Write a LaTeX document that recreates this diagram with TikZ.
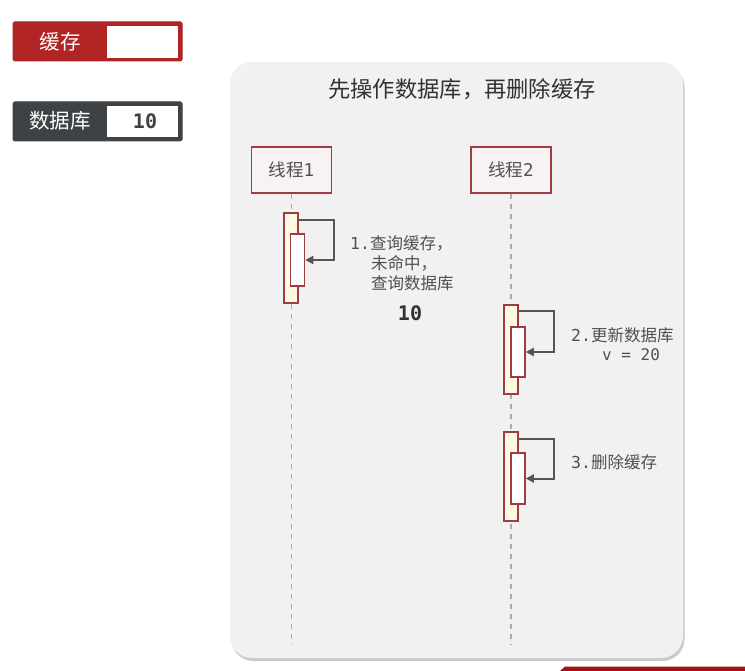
\documentclass[tikz,border=0pt]{standalone}
\usepackage{fontspec}
\setmainfont{Noto Sans CJK SC}
\setmonofont{DejaVu Sans Mono}
\usetikzlibrary{arrows.meta,shadows,calc}
\definecolor{cachered}{RGB}{176,36,36}
\definecolor{dbgray}{RGB}{62,66,68}
\definecolor{panelbg}{RGB}{241,241,241}
\definecolor{edgered}{RGB}{160,58,68}
\definecolor{actfill}{RGB}{255,249,226}
\definecolor{thrfill}{RGB}{248,242,242}
\definecolor{arrgray}{RGB}{85,85,85}
\definecolor{txtgray}{RGB}{80,80,80}
\definecolor{titlegray}{RGB}{50,50,50}
\definecolor{lifegray}{RGB}{170,170,170}
\definecolor{barred}{RGB}{168,16,20}
\tikzset{
  x=1pt, y=-1pt,
  labelbox/.style={draw=#1, fill=#1, line width=1pt, rounded corners=1.5pt},
  valbox/.style={fill=white},
  thread/.style={draw=edgered, fill=thrfill, line width=1.8pt, minimum width=80pt, minimum height=46pt, inner sep=0pt, text=txtgray, font=\fontsize{17.5}{21}\selectfont},
  actouter/.style={draw=edgered, fill=actfill, line width=1.5pt, minimum width=14pt, inner sep=0pt},
  actinner/.style={draw=edgered, fill=white, line width=1.5pt, minimum width=14pt, inner sep=0pt},
  lifeline/.style={draw=lifegray, line width=1.4pt, dash pattern=on 5pt off 5pt},
  callarrow/.style={draw=arrgray, line width=2pt, -{Triangle[length=8pt,width=8pt]}},
  msg/.style={anchor=west, inner sep=0pt, text=txtgray, font=\fontsize{16.5}{20}\selectfont},
}
\begin{document}
\begin{tikzpicture}
\useasboundingbox (0,0) rectangle (745,671);
% legend boxes
\node[labelbox=cachered, minimum width=169pt, minimum height=39pt, inner sep=0pt] (cachebox) at (97.5,41.5) {};
\node[valbox, minimum width=71pt, minimum height=32pt, inner sep=0pt] (cacheval) at (142.5,42) {};
\node[text=white, font=\fontsize{20.5}{24}\selectfont, inner sep=0pt] (cachelbl) at (60,42) {缓存};
\node[labelbox=dbgray, minimum width=169pt, minimum height=39pt, inner sep=0pt] (dbbox) at (97.5,121.5) {};
\node[valbox, minimum width=71pt, minimum height=31pt, inner sep=0pt] (dbval) at (142.5,121.5) {};
\node[text=white, font=\fontsize{20.5}{24}\selectfont, inner sep=0pt] (dblbl) at (60,121) {数据库};
\node[text=dbgray, font=\fontsize{20}{24}\selectfont\ttfamily\bfseries, inner sep=0pt] (dbnum) at (145,121) {10};
% panel
\node[fill=panelbg, rounded corners=22pt, minimum width=453pt, minimum height=596pt, inner sep=0pt,
  drop shadow={shadow xshift=1.5pt, shadow yshift=-3pt, opacity=0.35, fill=black!60}] (panel) at (456.5,360) {};
\node[text=titlegray, font=\fontsize{22.3}{26}\selectfont, inner sep=0pt] (title) at (462,89) {先操作数据库，再删除缓存};
% threads
\node[thread] (t1) at (291.5,170) {线程{\ttfamily 1}};
\node[thread] (t2) at (511,170) {线程{\ttfamily 2}};
\coordinate (t1end) at (291.5,644);
\coordinate (t2end) at (511,644);
\draw[lifeline] (t1.south) -- (t1end);
\draw[lifeline] (t2.south) -- (t2end);
% activations thread 1
\node[actouter, minimum height=90pt] (a1o) at (291,258) {};
\node[actinner, minimum height=52pt] (a1i) at (297.5,260) {};
\draw[callarrow] ($(a1o.north east)+(0,8)$) -- ++(35,0) |- (a1i.east);
% activations thread 2
\node[actouter, minimum height=89pt] (a2o) at (511,349.5) {};
\node[actinner, minimum height=50pt] (a2i) at (518,352) {};
\draw[callarrow] ($(a2o.north east)+(0,7)$) -- ++(35,0) |- (a2i.east);
\node[actouter, minimum height=89pt] (a3o) at (511,476.5) {};
\node[actinner, minimum height=51pt] (a3i) at (518,478.5) {};
\draw[callarrow] ($(a3o.north east)+(0,8)$) -- ++(35,0) |- (a3i.east);
% messages
\node[msg] (m1a) at (350,243) {{\ttfamily 1.}查询缓存，};
\node[msg] (m1b) at (371,263) {未命中，};
\node[msg] (m1c) at (371,283) {查询数据库};
\node[text=titlegray, font=\fontsize{20}{24}\selectfont\ttfamily\bfseries, inner sep=0pt] (r1) at (410,313) {10};
\node[msg] (m2a) at (571,335) {{\ttfamily 2.}更新数据库};
\node[msg, font=\fontsize{16}{20}\selectfont\ttfamily] (m2b) at (602,355) {v = 20};
\node[msg] (m3) at (571,462) {{\ttfamily 3.}删除缓存};
% bottom red bar
\fill[barred] (560,671) -- (565,666.5) -- (745,666.5) -- (745,671) -- cycle;
\end{tikzpicture}
\end{document}
